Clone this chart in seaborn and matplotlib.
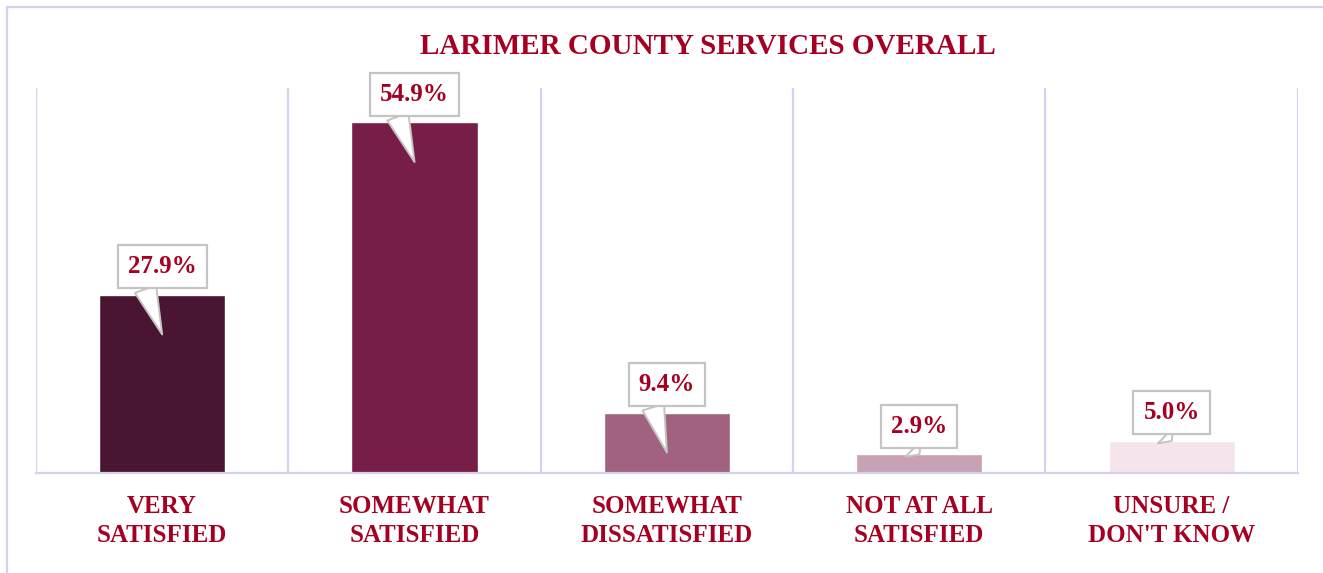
import matplotlib
matplotlib.use("Agg")
import matplotlib.pyplot as plt
import seaborn as sns
import pandas as pd
from matplotlib.patches import Rectangle

categories = ["VERY\nSATISFIED", "SOMEWHAT\nSATISFIED", "SOMEWHAT\nDISSATISFIED",
              "NOT AT ALL\nSATISFIED", "UNSURE /\nDON'T KNOW"]
values = [27.9, 54.9, 9.4, 2.9, 5.0]
labels = ["27.9%", "54.9%", "9.4%", "2.9%", "5.0%"]
bar_colors = ["#4A1530", "#771E48", "#A0627F", "#C9A1B5", "#F5E4EC"]

red = "#A50021"
lav = "#D5D1EE"
serif = ["Liberation Serif", "DejaVu Serif"]

sns.set_style("white")
plt.rcParams["font.family"] = serif

df = pd.DataFrame({"cat": categories, "val": values})

fig = plt.figure(figsize=(13.23, 5.73), dpi=100)
ax = fig.add_axes([0.0272, 0.1745, 0.9538, 0.672])

sns.barplot(data=df, x="cat", y="val", hue="cat", palette=bar_colors,
            width=0.5, legend=False, ax=ax, saturation=1)

ax.set_ylim(0, 60.3)
ax.set_xlim(-0.5, 4.5)
ax.set_xlabel("")
ax.set_ylabel("")
ax.set_yticks([])

# category dividers
for b in [-0.5, 0.5, 1.5, 2.5, 3.5, 4.5]:
    ax.axvline(b, color=lav, lw=1.6, zorder=0)

for s in ["top", "left", "right"]:
    ax.spines[s].set_visible(False)
ax.spines["bottom"].set_color(lav)
ax.spines["bottom"].set_linewidth(1.6)

ax.set_xticks(range(len(categories)))
ax.set_xticklabels(categories, fontsize=18, fontweight="bold", color=red,
                   linespacing=1.3)
ax.tick_params(axis="x", length=0, pad=16)

# callout labels sitting above each bar, tail pointing into the bar
for i, (v, t) in enumerate(zip(values, labels)):
    tip = v - 6.2 if v > 8 else v
    ax.annotate(t, xy=(i, tip), xycoords="data",
                xytext=(i, v + 4.4), textcoords="data",
                fontsize=18, fontweight="bold", color=red,
                ha="center", va="center",
                bbox=dict(boxstyle="square,pad=0.4", fc="white",
                          ec="#C4C4C4", lw=1.6),
                arrowprops=dict(arrowstyle="wedge,tail_width=0.9,shrink_factor=0.5",
                                fc="white", ec="#C4C4C4", lw=1.4,
                                relpos=(0.2, 0.0), shrinkA=0, shrinkB=0),
                annotation_clip=False)

fig.text(0.535, 0.918, "LARIMER COUNTY SERVICES OVERALL", ha="center",
         va="center", fontsize=21, fontweight="bold", color=red)

# outer frame
fig.patches.append(Rectangle((7 / 1323, -0.1), 1.2, 1.1 - 7 / 573,
                             transform=fig.transFigure, fill=False,
                             ec=lav, lw=1.6))

fig.savefig("out.png", dpi=100, facecolor="white")
